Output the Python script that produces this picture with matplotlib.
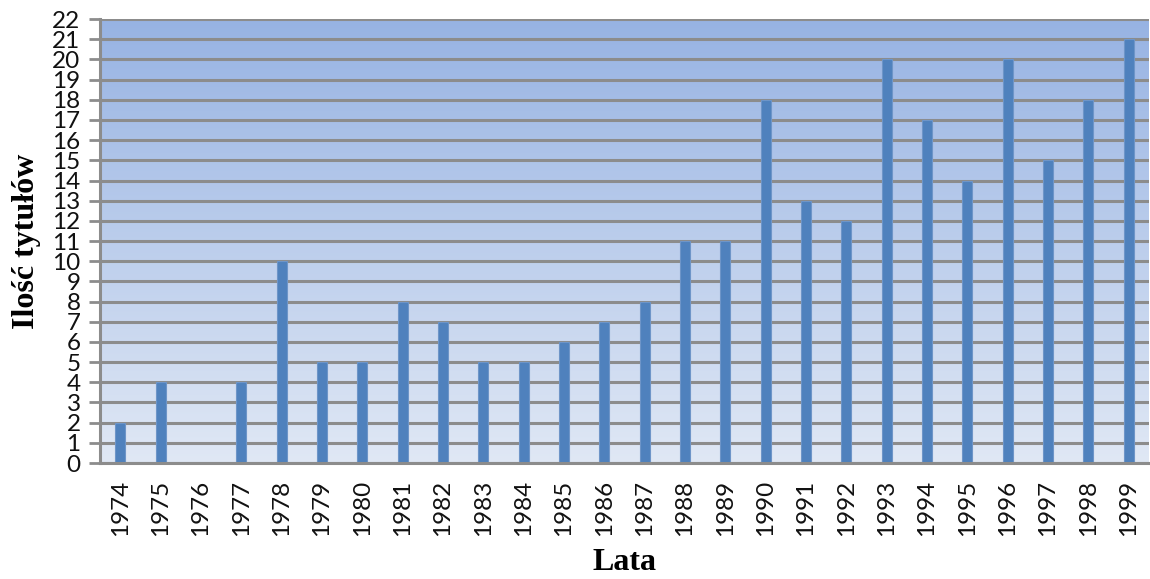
import numpy as np
import matplotlib
matplotlib.use("Agg")
import matplotlib.pyplot as plt
from matplotlib.colors import LinearSegmentedColormap

years = [str(y) for y in range(1974, 2000)]
counts = [2, 4, 0, 4, 10, 5, 5, 8, 7, 5, 5, 6, 7, 8, 11, 11, 18, 13, 12, 20, 17, 14, 20, 15, 18, 21]
yticks = list(range(0, 23))

fig = plt.figure(figsize=(11.5, 5.79), dpi=100)
ax = fig.add_axes([0.087, 0.2003, 0.912, 0.7667])

cmap = LinearSegmentedColormap.from_list("bg", ["#E0E8F5", "#97B3E3"])
grad = np.linspace(0, 1, 256).reshape(-1, 1)
ax.imshow(grad, aspect="auto", cmap=cmap, origin="lower",
          extent=[-0.5, len(years) - 0.5, 0, 22], zorder=0)

for y in yticks:
    ax.axhline(y, color="#8C8C8C", lw=2.2, zorder=1)

x = np.arange(len(years))
ax.bar(x, counts, width=0.25, color="#4F81BD", edgecolor="#6E95C8", lw=0.8, zorder=2)

ax.set_xlim(-0.5, len(years) - 0.5)
ax.set_ylim(0, 22)
ax.set_yticks(yticks)
ax.set_yticklabels([str(t) for t in yticks])
ax.set_xticks(x)
ax.set_xticklabels(years, rotation=90)

for lab in ax.get_yticklabels() + ax.get_xticklabels():
    lab.set_fontfamily(["Lato", "DejaVu Sans"])
    lab.set_fontsize(17.5)
    lab.set_fontweight("normal")
    lab.set_color("#111111")

ax.tick_params(axis="y", length=8, width=2, color="#8C8C8C", pad=6)
ax.tick_params(axis="x", length=0, pad=12)

for side in ["top", "right"]:
    ax.spines[side].set_visible(False)
ax.spines["left"].set_color("#8C8C8C")
ax.spines["left"].set_linewidth(2.2)
ax.spines["bottom"].set_color("#8C8C8C")
ax.spines["bottom"].set_linewidth(2.2)

ax.set_ylabel("Ilość tytułów", fontfamily=["Liberation Serif", "DejaVu Serif"],
              fontsize=23, fontweight="bold", labelpad=8)
ax.set_xlabel("Lata", fontfamily=["Liberation Serif", "DejaVu Serif"],
              fontsize=23, fontweight="bold", labelpad=9)

fig.savefig("out.png", dpi=100)
